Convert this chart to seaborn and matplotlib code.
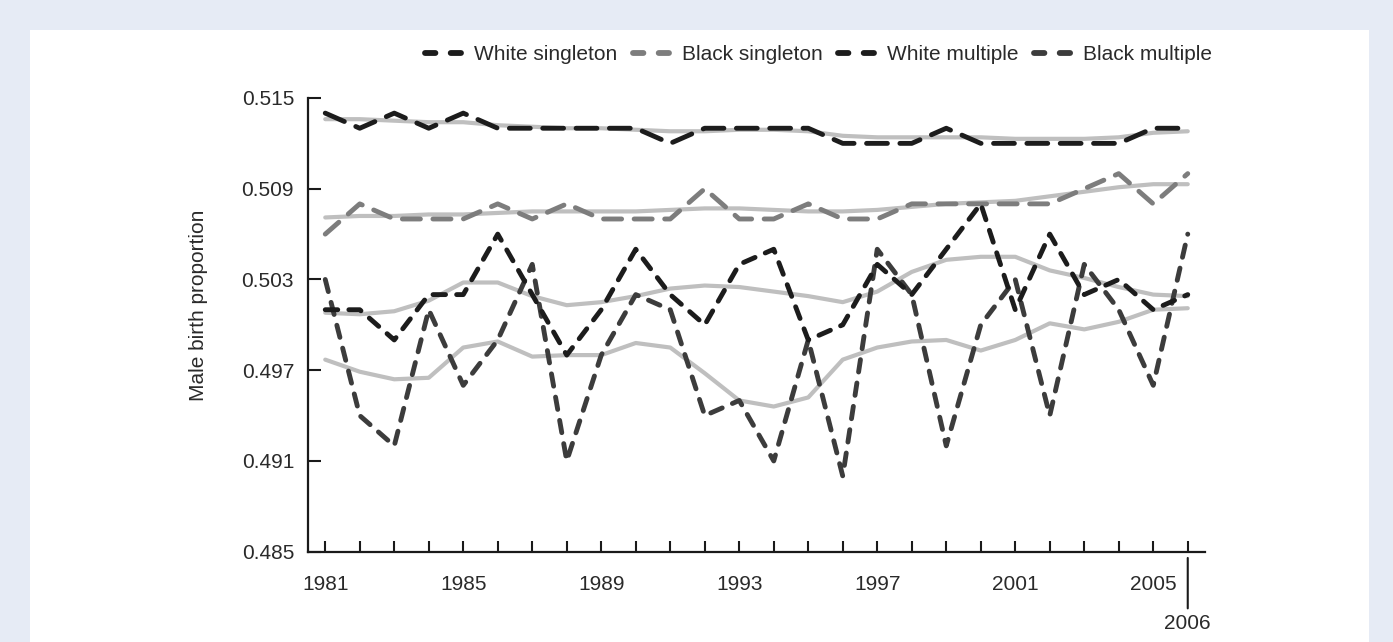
import matplotlib
matplotlib.use("Agg")
import matplotlib.pyplot as plt
from matplotlib.lines import Line2D
from matplotlib.patches import Rectangle
from matplotlib.ticker import FixedLocator, FormatStrFormatter
import seaborn as sns
import pandas as pd

years = list(range(1981, 2007))

white_singleton = [0.514, 0.513, 0.514, 0.513, 0.514, 0.513, 0.513, 0.513, 0.513, 0.513,
                   0.512, 0.513, 0.513, 0.513, 0.513, 0.512, 0.512, 0.512, 0.513, 0.512,
                   0.512, 0.512, 0.512, 0.512, 0.513, 0.513]
black_singleton = [0.506, 0.508, 0.507, 0.507, 0.507, 0.508, 0.507, 0.508, 0.507, 0.507,
                   0.507, 0.509, 0.507, 0.507, 0.508, 0.507, 0.507, 0.508, 0.508, 0.508,
                   0.508, 0.508, 0.509, 0.510, 0.508, 0.510]
white_multiple = [0.501, 0.501, 0.499, 0.502, 0.502, 0.506, 0.502, 0.498, 0.501, 0.505,
                  0.502, 0.500, 0.504, 0.505, 0.499, 0.500, 0.504, 0.502, 0.505, 0.508,
                  0.501, 0.506, 0.502, 0.503, 0.501, 0.502]
black_multiple = [0.503, 0.494, 0.492, 0.501, 0.496, 0.499, 0.504, 0.491, 0.498, 0.502,
                  0.501, 0.494, 0.495, 0.491, 0.499, 0.490, 0.505, 0.502, 0.492, 0.500,
                  0.503, 0.494, 0.504, 0.501, 0.496, 0.506]

# smoothed trend lines (solid light gray)
white_singleton_trend = [0.5136, 0.5136, 0.5135, 0.5134, 0.5134, 0.5132, 0.5131, 0.5130, 0.5130, 0.5129,
                         0.5128, 0.5128, 0.5129, 0.5129, 0.5128, 0.5125, 0.5124, 0.5124, 0.5124, 0.5124,
                         0.5123, 0.5123, 0.5123, 0.5124, 0.5127, 0.5128]
black_singleton_trend = [0.5071, 0.5072, 0.5072, 0.5073, 0.5073, 0.5074, 0.5075, 0.5075, 0.5075, 0.5075,
                         0.5076, 0.5077, 0.5077, 0.5076, 0.5075, 0.5075, 0.5076, 0.5078, 0.5080, 0.5081,
                         0.5082, 0.5085, 0.5088, 0.5091, 0.5093, 0.5093]
white_multiple_trend = [0.5008, 0.5007, 0.5009, 0.5016, 0.5028, 0.5028, 0.5019, 0.5013, 0.5015, 0.5019,
                        0.5024, 0.5026, 0.5025, 0.5022, 0.5019, 0.5015, 0.5022, 0.5035, 0.5043, 0.5045,
                        0.5045, 0.5036, 0.5031, 0.5025, 0.5020, 0.5019]
black_multiple_trend = [0.4977, 0.4969, 0.4964, 0.4965, 0.4985, 0.4989, 0.4979, 0.4980, 0.4980, 0.4988,
                        0.4985, 0.4968, 0.4950, 0.4946, 0.4952, 0.4977, 0.4985, 0.4989, 0.4990, 0.4983,
                        0.4990, 0.5001, 0.4997, 0.5002, 0.5010, 0.5011]

series_names = ["White singleton", "Black singleton", "White multiple", "Black multiple"]
yticks = [0.485, 0.491, 0.497, 0.503, 0.509, 0.515]
labeled_years = [1981, 1985, 1989, 1993, 1997, 2001, 2005]
last_year_label = "2006"
ylabel = "Male birth proportion"

sns.set_theme(style="white")
plt.rcParams["font.family"] = ["Liberation Sans", "DejaVu Sans"]
plt.rcParams["lines.scale_dashes"] = False

W, H = 1393, 642
fig = plt.figure(figsize=(W / 100, H / 100), dpi=100)
fig.patch.set_facecolor("#e6ebf5")
fig.add_artist(Rectangle((30 / W, 0), (1369 - 30) / W, (H - 30) / H,
                         transform=fig.transFigure, facecolor="white",
                         edgecolor="none", zorder=0))

ax = fig.add_axes([308 / W, 1 - 551.7 / H, (1205 - 308) / W, (551.7 - 98) / H])
ax.set_facecolor("none")

df = pd.DataFrame({"year": years,
                   "White singleton": white_singleton,
                   "Black singleton": black_singleton,
                   "White multiple": white_multiple,
                   "Black multiple": black_multiple,
                   "White singleton trend": white_singleton_trend,
                   "Black singleton trend": black_singleton_trend,
                   "White multiple trend": white_multiple_trend,
                   "Black multiple trend": black_multiple_trend})

trend_color = "#bfbfbf"
for name in series_names:
    sns.lineplot(data=df, x="year", y=name + " trend", ax=ax, color=trend_color,
                 linewidth=3.0, solid_capstyle="round", zorder=2, legend=False)

styles = {
    "White singleton": dict(color="#1c1c1c", dash=(15, 9)),
    "Black singleton": dict(color="#7d7d7d", dash=(13, 9)),
    "White multiple": dict(color="#1c1c1c", dash=(9, 8)),
    "Black multiple": dict(color="#3c3c3c", dash=(9, 8)),
}
for name in ["Black singleton", "White singleton", "Black multiple", "White multiple"]:
    st = styles[name]
    sns.lineplot(data=df, x="year", y=name, ax=ax, color=st["color"], linewidth=3.5,
                 linestyle=(0, st["dash"]), dash_capstyle="round",
                 dash_joinstyle="round", zorder=3, legend=False)

ax.set_xlim(1980.5, 2006.5)
ax.set_ylim(0.485, 0.515)

for s in ["top", "right"]:
    ax.spines[s].set_visible(False)
for s in ["left", "bottom"]:
    ax.spines[s].set_color("#1a1a1a")
    ax.spines[s].set_linewidth(1.6)

ax.xaxis.set_major_locator(FixedLocator(labeled_years))
ax.xaxis.set_minor_locator(FixedLocator(years))
ax.set_xticklabels([str(y) for y in labeled_years])
ax.yaxis.set_major_locator(FixedLocator(yticks))
ax.yaxis.set_major_formatter(FormatStrFormatter("%.3f"))

ax.tick_params(axis="x", which="both", direction="in", length=8, width=1.5,
               color="#1a1a1a", pad=17, labelsize=15, labelcolor="#2a2a2a", bottom=True)
ax.tick_params(axis="y", which="major", direction="in", length=9, width=1.5,
               color="#1a1a1a", pad=10, labelsize=15, labelcolor="#2a2a2a", left=True)
ax.set_xlabel("")
ax.set_ylabel(ylabel, fontsize=15, color="#2a2a2a")
ax.yaxis.set_label_coords(-0.1115, 0.542)

ax.annotate(last_year_label, xy=(2006, 0), xycoords=ax.get_xaxis_transform(),
            xytext=(0, -51.5), textcoords="offset points", ha="center", va="center",
            fontsize=15, color="#2a2a2a", annotation_clip=False,
            arrowprops=dict(arrowstyle="-", color="#1a1a1a", lw=1.5,
                            shrinkA=1.5, shrinkB=4.5, relpos=(0.5, 1.0)))

handles = [Line2D([], [], color=styles[n]["color"], linewidth=4.2,
                  linestyle=(0, (7.5, 11)), dash_capstyle="round") for n in series_names]
fig.legend(handles, series_names, loc="center right",
           bbox_to_anchor=(1212 / W, 1 - 55 / H), ncol=4, frameon=False,
           fontsize=15, handlelength=1.75, handletextpad=0.6, columnspacing=0.75,
           borderaxespad=0, borderpad=0, labelcolor="#2a2a2a")

fig.savefig("out.png", dpi=100)
